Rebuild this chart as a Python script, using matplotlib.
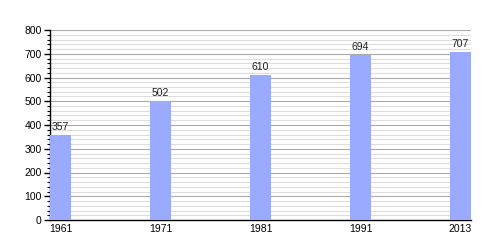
import matplotlib
matplotlib.use('Agg')
import matplotlib.pyplot as plt
from matplotlib.ticker import MultipleLocator

# Population by census year
years = ['1961', '1971', '1981', '1991', '2013']
population = [357, 502, 610, 694, 707]

plt.rcParams['font.family'] = ['Liberation Sans', 'DejaVu Sans']

fig = plt.figure(figsize=(5, 2.5), dpi=100)
ax = fig.add_axes([0.1, 0.12, 0.842, 0.76])

bar_w = 0.21
pos = list(range(len(years)))
ax.bar(pos, population, width=bar_w, align='edge', color='#99aaff', zorder=3)
for x, v in zip(pos, population):
    ax.text(x + bar_w / 2, v + 12, str(v), ha='center', va='bottom', fontsize=7.5, color='#222222')

ax.set_xlim(0, pos[-1] + bar_w)
ax.set_ylim(0, 800)
ax.set_xticks([p + bar_w / 2 for p in pos])
ax.set_xticklabels(years)
ax.yaxis.set_major_locator(MultipleLocator(100))
ax.yaxis.set_minor_locator(MultipleLocator(20))
ax.grid(axis='y', which='major', color='#aaaaaa', linewidth=0.8, zorder=0)
ax.grid(axis='y', which='minor', color='#dddddd', linewidth=0.8, zorder=0)

for s in ['top', 'right']:
    ax.spines[s].set_visible(False)
ax.spines['left'].set_linewidth(1)
ax.spines['bottom'].set_linewidth(1)
ax.tick_params(axis='x', length=0, labelsize=7.5, pad=3)
ax.tick_params(axis='y', which='major', length=4, width=1, labelsize=7.5, pad=2)
ax.tick_params(axis='y', which='minor', length=2, width=0.8)

fig.savefig('out.png', dpi=100)
